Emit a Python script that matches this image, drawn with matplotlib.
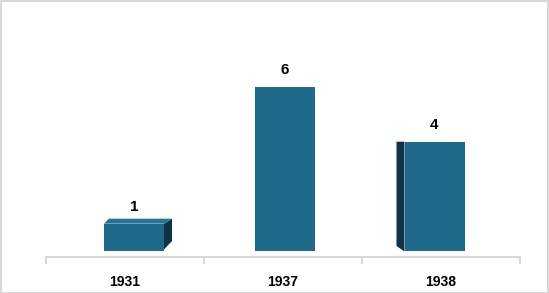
import numpy as np
import matplotlib
matplotlib.use("Agg")
import matplotlib.pyplot as plt
from matplotlib.patches import Polygon, Rectangle

# data
years = ["1931", "1937", "1938"]
counts = [1, 6, 4]

front = "#1f6a8b"
side = "#0f3447"
grid_c = "#d9d9d9"

plt.rcParams["font.family"] = ["Liberation Sans", "DejaVu Sans"]

fig = plt.figure(figsize=(5.49, 2.93), dpi=100)
W, H = 549, 293
# axes: x 46..520 px, bottom spine at y=257 px, top at 20 px
ax = fig.add_axes([46 / W, (H - 257) / H, (520 - 46) / W, (257 - 20) / H])

ppu = 27.33  # pixels per unit
y0 = -6 / ppu
ax.set_ylim(y0, y0 + (257 - 20) / ppu)
ax.set_xlim(-0.5, len(years) - 0.5)

x = np.arange(len(years))
# perspective shift of each bar (category units)
shift = np.array([9, 2, -6.5]) / 158
bx = x + shift
bw = 60 / 158
ax.bar(bx, counts, width=bw, color=front, zorder=3)

dx = 8 / 158
dy = 5 / ppu
cut = 5 / ppu
# bar 1: right side face + thin top
xr = bx[0] + bw / 2
h = counts[0]
ax.add_patch(Polygon([(xr, cut * 0.3), (xr, h), (xr + dx, h + dy), (xr + dx, dy + cut)],
                     closed=True, color=side, zorder=3, lw=0))
xl = bx[0] - bw / 2
ax.add_patch(Polygon([(xl, h), (xl + dx * 0.6, h + dy), (xr + dx, h + dy), (xr, h)],
                     closed=True, color="#2a7397", zorder=3, lw=0))
# bar 3: left side face
xl = bx[2] - bw / 2
h = counts[2]
ax.add_patch(Polygon([(xl - dx, h), (xl, h), (xl, 0), (xl - dx * 0.1, 0), (xl - dx, cut)],
                     closed=True, color=side, zorder=3, lw=0))

for xi, v in zip(bx, counts):
    ax.annotate(str(v), (xi, v), xytext=(0, 17), textcoords="offset pixels",
                ha="center", va="center", fontsize=11, fontweight="bold", color="black")

for s in ["top", "right", "left"]:
    ax.spines[s].set_visible(False)
ax.spines["bottom"].set_color(grid_c)
ax.spines["bottom"].set_linewidth(1.5)
ax.set_yticks([])
ax.set_xticks(np.arange(-0.5, len(years), 1.0))
ax.set_xticklabels([])
ax.tick_params(axis="x", length=5, width=1.5, color=grid_c)
for xi, lab in zip(x, years):
    ax.annotate(lab, (xi, y0), xytext=(0, -25), textcoords="offset pixels",
                ha="center", va="center", fontsize=10, fontweight="bold",
                annotation_clip=False)

fig.patches.append(Rectangle((0.5 / W, 0.5 / H), 1 - 1.5 / W, 1 - 1.5 / H,
                             transform=fig.transFigure, fill=False,
                             edgecolor=grid_c, lw=1.5))

fig.savefig("out.png", dpi=100)
